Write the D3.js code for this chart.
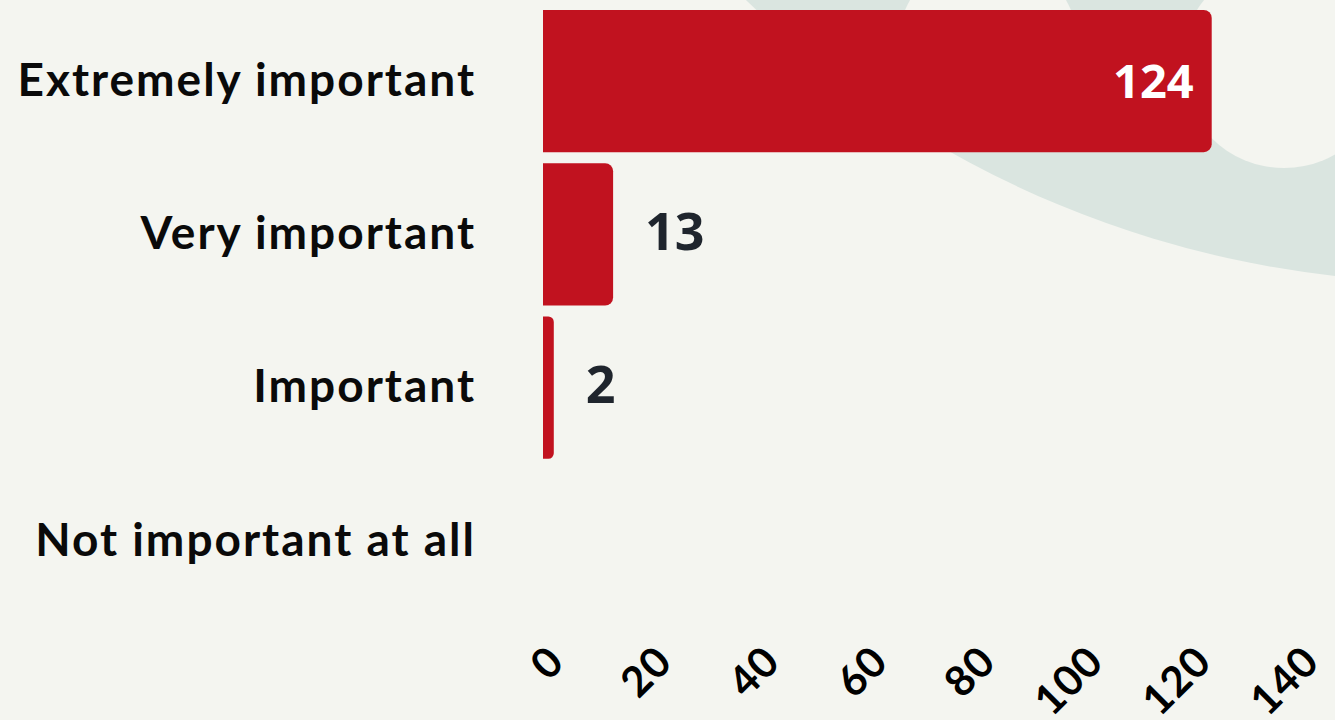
<!DOCTYPE html>
<html>
<head>
<meta charset="utf-8">
<script src="https://cdn.jsdelivr.net/npm/d3@7"></script>
<style>
  html, body { margin: 0; padding: 0; background: #f4f5f0; }
  svg { display: block; }
</style>
</head>
<body>
<svg id="chart" width="1335" height="720"></svg>
<script>
// Survey answers: how important is it?
const categories = ["Extremely important", "Very important", "Important", "Not important at all"];
const counts = [124, 13, 2, 0];
const tickValues = [0, 20, 40, 60, 80, 100, 120, 140];

const W = 1335, H = 720;
const svg = d3.select("#chart");

// Decorative backdrop shape in the upper right
const bg = svg.append("g");
const defs = svg.append("defs");
const mask = defs.append("mask").attr("id", "ringMask");
mask.append("rect").attr("width", W).attr("height", H).attr("fill", "#fff");
mask.append("circle").attr("cx", 988).attr("cy", 45).attr("r", 90).attr("fill", "#000");
mask.append("circle").attr("cx", 1284).attr("cy", 65).attr("r", 103).attr("fill", "#000");
bg.append("circle")
  .attr("cx", 1446).attr("cy", -728).attr("r", 1010)
  .attr("fill", "#dae5e0")
  .attr("mask", "url(#ringMask)");

const x = d3.scaleLinear().domain([0, 140]).range([543, 1298]);
const y = d3.scaleBand().domain(categories).range([0, 622])
  .paddingInner(0.072).paddingOuter(0.065);

// Bars with rounded right corners only
function barPath(x0, x1, y0, h) {
  const w = x1 - x0;
  if (w <= 0) return "";
  const r = Math.min(8, w / 2, h / 2);
  return `M${x0},${y0}H${x1 - r}A${r},${r} 0 0 1 ${x1},${y0 + r}` +
         `V${y0 + h - r}A${r},${r} 0 0 1 ${x1 - r},${y0 + h}H${x0}Z`;
}

const rows = categories.map((c, i) => ({ c, v: counts[i] }));

svg.append("g").selectAll("path")
  .data(rows.filter(d => d.v > 0))
  .join("path")
  .attr("d", d => barPath(x(0), x(d.v), y(d.c), y.bandwidth()))
  .attr("fill", "#c1121f");

// Value labels: inside for wide bars, outside otherwise
svg.append("g").selectAll("text")
  .data(rows.filter(d => d.v > 0))
  .join("text")
  .each(function (d) {
    const inside = x(d.v) - x(0) > 150;
    d3.select(this)
      .attr("x", inside ? x(d.v) - 18 : x(d.v) + 32)
      .attr("y", y(d.c) + y.bandwidth() / 2 - (inside ? 0 : 3))
      .attr("text-anchor", inside ? "end" : "start")
      .attr("font-size", inside ? 47 : 52)
      .attr("fill", inside ? "#ffffff" : "#1f252d");
  })
  .attr("dy", "0.36em")
  .attr("font-family", "'Open Sans', sans-serif")
  .attr("font-weight", 700)
  .text(d => d.v);

// Category axis (no line, no ticks)
const yAxis = svg.append("g")
  .attr("transform", `translate(${x(0)},0)`)
  .call(d3.axisLeft(y).tickSize(0).tickPadding(67));
yAxis.select(".domain").remove();
yAxis.selectAll("text")
  .attr("font-family", "Lato, sans-serif")
  .attr("font-weight", 700)
  .attr("font-size", 46)
  .attr("letter-spacing", 2)
  .attr("fill", "#0a0a0a");

// Value axis with slanted tick labels
const xAxis = svg.append("g")
  .attr("transform", "translate(0,640)")
  .call(d3.axisBottom(x).tickValues(tickValues).tickSize(0).tickPadding(0));
xAxis.select(".domain").remove();
xAxis.selectAll("text")
  .attr("font-family", "Lato, sans-serif")
  .attr("font-weight", 700)
  .attr("font-size", 42)
  .attr("letter-spacing", 1)
  .attr("fill", "#000")
  .attr("text-anchor", "end")
  .attr("dy", null)
  .attr("y", 0)
  .attr("transform", "translate(23,24) rotate(-45)");
</script>
</body>
</html>
